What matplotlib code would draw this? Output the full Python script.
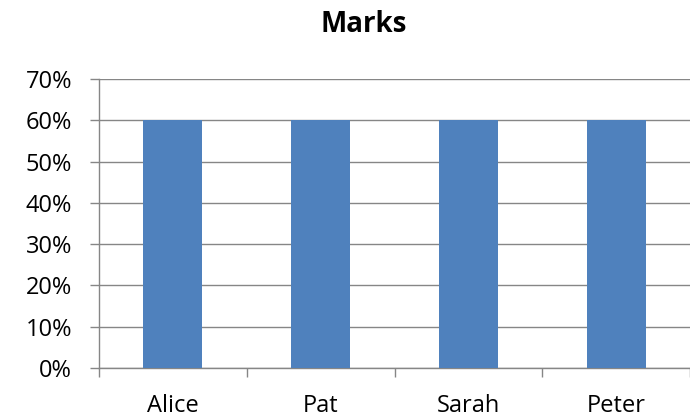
import matplotlib
matplotlib.use("Agg")
import matplotlib.pyplot as plt
from matplotlib.ticker import PercentFormatter, FixedLocator

names = ["Alice", "Pat", "Sarah", "Peter"]
marks = [0.60, 0.60, 0.60, 0.60]
yticks = [0.0, 0.1, 0.2, 0.3, 0.4, 0.5, 0.6, 0.7]

plt.rcParams['font.family'] = ['Open Sans', 'DejaVu Sans']
fig = plt.figure(figsize=(6.9, 4.19), dpi=100)
ax = fig.add_axes([99/690, 1-368/419, 591/690, 289/419])

x = list(range(len(names)))
ax.bar(x, marks, width=0.4, color="#4F81BD", zorder=3)
ax.set_xlim(-0.5, len(names)-0.5)
ax.set_ylim(0, 0.7)
ax.set_yticks(yticks)
ax.yaxis.set_major_formatter(PercentFormatter(1.0, decimals=0))
ax.grid(axis='y', color="#868686", linewidth=1.0, zorder=0)
ax.set_xticks([i - 0.5 for i in range(len(names)+1)])
ax.set_xticklabels([])
ax.xaxis.set_minor_locator(FixedLocator(x))
ax.set_xticklabels(names, minor=True)
ax.tick_params(axis='x', which='minor', length=0, pad=19, labelsize=17)
ax.tick_params(axis='x', which='major', length=6.5, color="#868686", width=1)
ax.tick_params(axis='y', length=6.5, color="#868686", width=1, labelsize=17, pad=13)
for s in ['top', 'right']:
    ax.spines[s].set_visible(False)
for s in ['left', 'bottom']:
    ax.spines[s].set_color("#868686")
    ax.spines[s].set_linewidth(1.0)
fig.text(364/690, 1-25/419, "Marks", ha='center', va='center', fontsize=20, fontweight='bold')
fig.savefig("out.png", dpi=100)
